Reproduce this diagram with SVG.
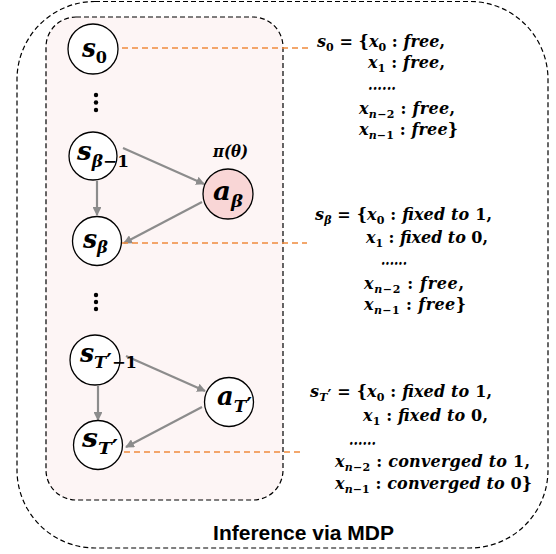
<svg xmlns="http://www.w3.org/2000/svg" width="556" height="554" viewBox="0 0 556 554">
<style>
.frame{fill:none;stroke:#000;stroke-width:1.2;stroke-dasharray:5 3}
.inner{fill:#fdf5f5;stroke:#000;stroke-width:1.2;stroke-dasharray:5 3}
.node{fill:#fff;stroke:#000;stroke-width:1.3}
.act{fill:#f9d6d6;stroke:#000;stroke-width:1.3}
.arr{stroke:#8c8c8c;stroke-width:2.2;fill:none;marker-end:url(#ah)}
.lead{stroke:#f08a3c;stroke-width:1.5;stroke-dasharray:6 4;fill:none}
.m{font-family:"DejaVu Serif","Liberation Serif",serif;font-weight:bold;fill:#000}
.i{font-style:italic}
.lbl{font-size:26px}
.ls{font-size:17px}
.t{font-size:16px}
.ts{font-size:11px}
.pr{font-family:"DejaVu Sans",sans-serif;font-style:normal;font-size:22px}
.prs{font-family:"DejaVu Sans",sans-serif;font-style:normal;font-size:15px}
.cap{font-family:"Liberation Sans",Arial,sans-serif;font-weight:bold;font-size:21px;fill:#000}
</style>
<defs>
<marker id="ah" viewBox="0 0 10 10" refX="9" refY="5" markerWidth="4" markerHeight="4" orient="auto" markerUnits="strokeWidth">
<path d="M0,0 L10,5 L0,10 z" fill="#8c8c8c"/>
</marker>
</defs>
<rect class="frame" x="17" y="1.5" width="531" height="546.5" rx="78" ry="78"/>
<rect class="inner" x="46" y="17" width="237" height="483" rx="30" ry="30"/>

<g id="connectors">
<line class="arr" x1="123" y1="148" x2="204" y2="184"/>
<line class="arr" x1="97" y1="181" x2="97" y2="215"/>
<line class="arr" x1="202" y1="202" x2="124" y2="243"/>
<line class="arr" x1="126" y1="356" x2="205" y2="391"/>
<line class="arr" x1="98" y1="386" x2="98" y2="420"/>
<line class="arr" x1="202" y1="407" x2="126" y2="447"/>
<line class="lead" x1="122" y1="48" x2="308" y2="48"/>
<line class="lead" x1="122" y1="243" x2="307" y2="243"/>
<line class="lead" x1="124" y1="452" x2="302" y2="452"/>
</g>

<g id="dots1"><circle cx="96" cy="95" r="2.2"/><circle cx="96" cy="102.5" r="2.2"/><circle cx="96" cy="110" r="2.2"/></g>
<g id="dots2"><circle cx="96" cy="295" r="2.2"/><circle cx="96" cy="302" r="2.2"/><circle cx="96" cy="309" r="2.2"/></g>

<g id="s0">
<circle class="node" cx="93" cy="49" r="25"/>
<text class="m" x="82" y="57" textLength="25" lengthAdjust="spacingAndGlyphs"><tspan class="i lbl">s</tspan><tspan class="ls" dy="6">0</tspan></text>
</g>
<g id="sbm1">
<circle class="node" cx="93" cy="156" r="24"/>
<text class="m" x="77" y="160" textLength="52" lengthAdjust="spacingAndGlyphs"><tspan class="i lbl">s</tspan><tspan class="i ls" dy="7">β</tspan><tspan class="ls">−1</tspan></text>
</g>
<g id="ab">
<circle class="act" cx="228" cy="194" r="25"/>
<text class="m i" x="213" y="157" style="font-size:17px" textLength="35" lengthAdjust="spacingAndGlyphs">π(θ)</text>
<text class="m" x="213" y="200" textLength="30" lengthAdjust="spacingAndGlyphs"><tspan class="i lbl">a</tspan><tspan class="i ls" dy="7">β</tspan></text>
</g>
<g id="sb">
<circle class="node" cx="97" cy="241" r="24.5"/>
<text class="m" x="83" y="248" textLength="25" lengthAdjust="spacingAndGlyphs"><tspan class="i lbl">s</tspan><tspan class="i ls" dy="5">β</tspan></text>
</g>
<g id="sTm1">
<circle class="node" cx="95" cy="360" r="25"/>
<text class="m" x="80" y="362" textLength="57" lengthAdjust="spacingAndGlyphs"><tspan class="i lbl">s</tspan><tspan class="i ls" dy="6">T</tspan><tspan class="pr" dy="1">′</tspan><tspan class="ls" dy="-1">−1</tspan></text>
</g>
<g id="aT">
<circle class="node" cx="229" cy="402" r="24.5"/>
<text class="m" x="217" y="405" textLength="35" lengthAdjust="spacingAndGlyphs"><tspan class="i lbl">a</tspan><tspan class="i ls" dy="7">T</tspan><tspan class="pr" dy="1">′</tspan></text>
</g>
<g id="sT">
<circle class="node" cx="98" cy="445" r="24.5"/>
<text class="m" x="82" y="447" textLength="36" lengthAdjust="spacingAndGlyphs"><tspan class="i lbl">s</tspan><tspan class="i ls" dy="7">T</tspan><tspan class="pr" dy="1">′</tspan></text>
</g>

<g id="state0">
<text class="m t" x="317" y="47" textLength="128" lengthAdjust="spacing"><tspan class="i">s</tspan><tspan class="ts" dy="4">0</tspan><tspan dy="-4"> = {</tspan><tspan class="i">x</tspan><tspan class="ts" dy="4">0</tspan><tspan dy="-4"> : </tspan><tspan class="i">free</tspan>,</text>
<text class="m t" x="368" y="68" textLength="77" lengthAdjust="spacing"><tspan class="i">x</tspan><tspan class="ts" dy="4">1</tspan><tspan dy="-4"> : </tspan><tspan class="i">free</tspan>,</text>
<text class="m t i" x="368" y="90" textLength="28" lengthAdjust="spacingAndGlyphs">......</text>
<text class="m t" x="359" y="114" textLength="96" lengthAdjust="spacing"><tspan class="i">x</tspan><tspan class="ts i" dy="4">n</tspan><tspan class="ts">−2</tspan><tspan dy="-4"> : </tspan><tspan class="i">free</tspan>,</text>
<text class="m t" x="359" y="135" textLength="99" lengthAdjust="spacing"><tspan class="i">x</tspan><tspan class="ts i" dy="4">n</tspan><tspan class="ts">−1</tspan><tspan dy="-4"> : </tspan><tspan class="i">free</tspan>}</text>
</g>
<g id="stateb">
<text class="m t" x="315" y="220" textLength="177" lengthAdjust="spacing"><tspan class="i">s</tspan><tspan class="ts i" dy="4">β</tspan><tspan dy="-4"> = {</tspan><tspan class="i">x</tspan><tspan class="ts" dy="4">0</tspan><tspan dy="-4"> : </tspan><tspan class="i">fixed to </tspan>1,</text>
<text class="m t" x="366" y="243" textLength="122" lengthAdjust="spacing"><tspan class="i">x</tspan><tspan class="ts" dy="4">1</tspan><tspan dy="-4"> : </tspan><tspan class="i">fixed to </tspan>0,</text>
<text class="m t i" x="381" y="265" textLength="26" lengthAdjust="spacingAndGlyphs">......</text>
<text class="m t" x="364" y="289" textLength="100" lengthAdjust="spacing"><tspan class="i">x</tspan><tspan class="ts i" dy="4">n</tspan><tspan class="ts">−2</tspan><tspan dy="-4"> : </tspan><tspan class="i">free</tspan>,</text>
<text class="m t" x="364" y="310" textLength="102" lengthAdjust="spacing"><tspan class="i">x</tspan><tspan class="ts i" dy="4">n</tspan><tspan class="ts">−1</tspan><tspan dy="-4"> : </tspan><tspan class="i">free</tspan>}</text>
</g>
<g id="stateT">
<text class="m t" x="310" y="397" textLength="182" lengthAdjust="spacing"><tspan class="i">s</tspan><tspan class="ts i" dy="4">T</tspan><tspan class="prs">′</tspan><tspan dy="-4"> = {</tspan><tspan class="i">x</tspan><tspan class="ts" dy="4">0</tspan><tspan dy="-4"> : </tspan><tspan class="i">fixed to </tspan>1,</text>
<text class="m t" x="363" y="421" textLength="125" lengthAdjust="spacing"><tspan class="i">x</tspan><tspan class="ts" dy="4">1</tspan><tspan dy="-4"> : </tspan><tspan class="i">fixed to </tspan>0,</text>
<text class="m t i" x="349" y="445" textLength="27" lengthAdjust="spacingAndGlyphs">......</text>
<text class="m t" x="335" y="467" textLength="195" lengthAdjust="spacing"><tspan class="i">x</tspan><tspan class="ts i" dy="4">n</tspan><tspan class="ts">−2</tspan><tspan dy="-4"> : </tspan><tspan class="i">converged to </tspan>1,</text>
<text class="m t" x="335" y="489" textLength="197" lengthAdjust="spacing"><tspan class="i">x</tspan><tspan class="ts i" dy="4">n</tspan><tspan class="ts">−1</tspan><tspan dy="-4"> : </tspan><tspan class="i">converged to </tspan>0}</text>
</g>

<g id="caption"><text class="cap" x="303.5" y="540" text-anchor="middle">Inference via MDP</text></g>
</svg>
